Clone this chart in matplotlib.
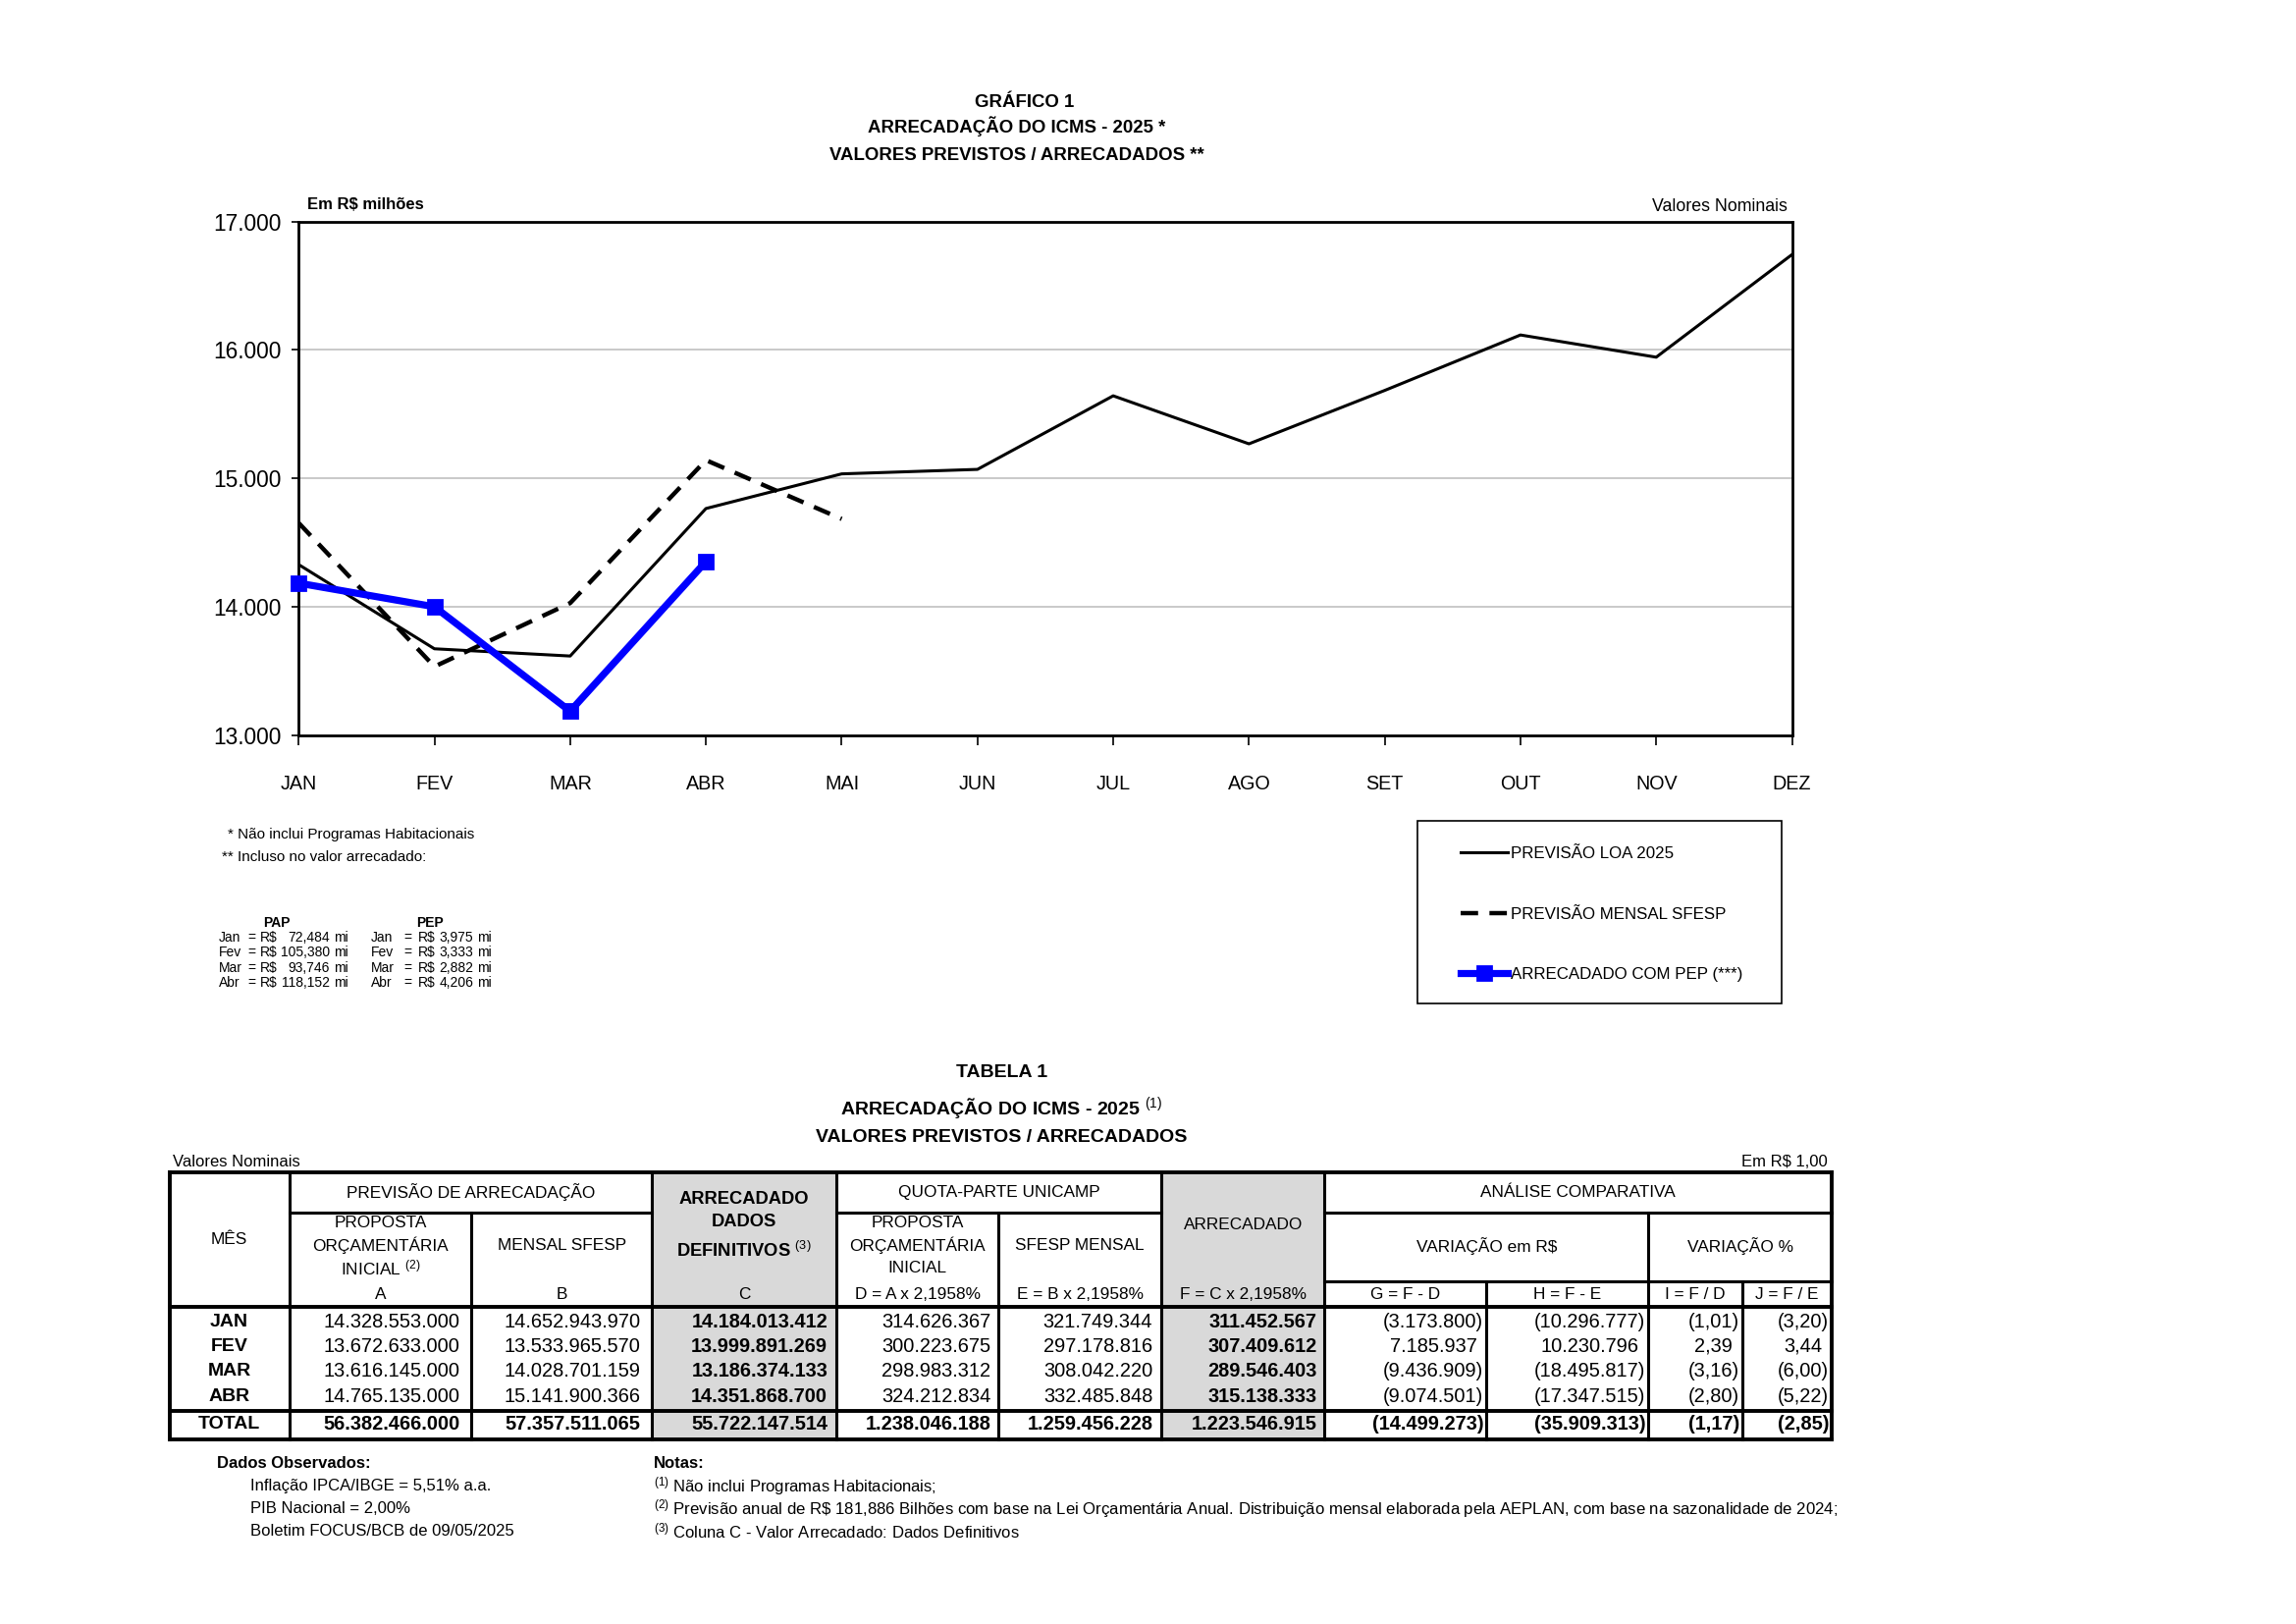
import matplotlib
matplotlib.use("Agg")
import matplotlib.pyplot as plt
from matplotlib.patches import Rectangle
from matplotlib.ticker import FuncFormatter

W, H = 2339, 1654
DPI = 200
S = 0.9943  # ajuste de escala das coordenadas medidas

plt.rcParams['font.family'] = ['Liberation Sans', 'DejaVu Sans']
plt.rcParams['mathtext.fontset'] = 'custom'
plt.rcParams['mathtext.rm'] = 'Liberation Sans'
plt.rcParams['mathtext.it'] = 'Liberation Sans:italic'
plt.rcParams['mathtext.bf'] = 'Liberation Sans:bold'

# ---- dados do gráfico (R$ milhões) ----
meses = ['JAN', 'FEV', 'MAR', 'ABR', 'MAI', 'JUN', 'JUL', 'AGO', 'SET', 'OUT', 'NOV', 'DEZ']
previsao_loa = [14328.553, 13672.633, 13616.145, 14765.135, 15035, 15070,
                15643, 15269, 15685, 16117, 15944, 16743]
previsao_sfesp = [14652.944, 13533.966, 14028.701, 15141.900, 14684]
arrecadado_pep = [14184.013, 13999.891, 13186.374, 14351.869]

# PAP / PEP
pap_meses = ['Jan', 'Fev', 'Mar', 'Abr']
pap_valores = ['72,484', '105,380', '93,746', '118,152']
pep_valores = ['3,975', '3,333', '2,882', '4,206']

# ---- tabela 1 (R$ 1,00) ----
tab_meses = ['JAN', 'FEV', 'MAR', 'ABR']
col_a = [14328553000, 13672633000, 13616145000, 14765135000]
col_b = [14652943970, 13533965570, 14028701159, 15141900366]
col_c = [14184013412, 13999891269, 13186374133, 14351868700]
col_d = [314626367, 300223675, 298983312, 324212834]
col_e = [321749344, 297178816, 308042220, 332485848]
col_f = [311452567, 307409612, 289546403, 315138333]
col_g = [-3173800, 7185937, -9436909, -9074501]
col_h = [-10296777, 10230796, -18495817, -17347515]
col_i = [-1.01, 2.39, -3.16, -2.80]
col_j = [-3.20, 3.44, -6.00, -5.22]
totais = [56382466000, 57357511065, 55722147514, 1238046188, 1259456228,
          1223546915, -14499273, -35909313, -1.17, -2.85]


def fmt_int(v):
    s = f"{abs(v):,}".replace(',', '.')
    return f"({s})" if v < 0 else s


def fmt_pct(v):
    s = f"{abs(v):.2f}".replace('.', ',')
    return f"({s})" if v < 0 else s


fig = plt.figure(figsize=(W / DPI, H / DPI), dpi=DPI)
fig.patch.set_facecolor('white')

# camada de fundo em pixels (textos e tabela)
ov = fig.add_axes([0, 0, 1, 1])
ov.set_xlim(0, W / S)
ov.set_ylim(H / S, 0)
ov.axis('off')


def txt(x, y, s, size, bold=False, ha='center', va='center'):
    ov.text(x, y, s, fontsize=size, fontweight='bold' if bold else 'normal',
            ha=ha, va=va)


# títulos do gráfico
txt(1050, 105, 'GRÁFICO 1', 6.7, True)
txt(1042, 129, 'ARRECADAÇÃO DO ICMS - 2025 *', 6.7, True)
txt(1042, 159, 'VALORES PREVISTOS / ARRECADADOS **', 6.7, True)
txt(315, 210, 'Em R$ milhões', 6.0, True, ha='left')
txt(1831, 212, 'Valores Nominais', 6.4, ha='right')

# ---- gráfico ----
ax = fig.add_axes([306 * S / W, 1 - 753 * S / H, 1530 * S / W, 526 * S / H])
l1, = ax.plot(range(12), previsao_loa, color='black', lw=1.1)
l2, = ax.plot(range(len(previsao_sfesp)), previsao_sfesp, color='black', lw=1.6,
              ls=(0, (4, 2.6)))
l3, = ax.plot(range(len(arrecadado_pep)), arrecadado_pep, color='#0000ff', lw=2.6,
              marker='s', ms=5, clip_on=False, zorder=5)
ax.set_xlim(0, 11)
ax.set_ylim(13000, 17000)
ax.set_xticks(range(12))
ax.set_xticklabels(meses, fontsize=7.1)
ax.set_yticks(range(13000, 17001, 1000))
ax.yaxis.set_major_formatter(FuncFormatter(lambda v, p: f"{int(v):,}".replace(',', '.')))
ax.tick_params(axis='x', direction='out', length=3.6, width=0.6, pad=11)
ax.tick_params(axis='y', direction='out', length=2.5, width=0.6, pad=4, labelsize=8.2)
for sp in ax.spines.values():
    sp.set_linewidth(1.0)
ax.yaxis.grid(True, color='#c0c0c0', lw=0.6)
ax.set_axisbelow(True)

# legenda
fig.legend([l1, l2, l3], ['PREVISÃO LOA 2025', 'PREVISÃO MENSAL SFESP', 'ARRECADADO COM PEP (***)'],
           loc='upper left', bbox_to_anchor=(1497 * S / W, 1 - 867 * S / H), frameon=False,
           fontsize=6.1, handlelength=2.8, handletextpad=0.2, labelspacing=2.75,
           borderpad=0, borderaxespad=0)
ov.add_patch(Rectangle((1452, 841), 373, 187, fill=False, edgecolor='black', lw=0.6))

# notas do gráfico
txt(233, 855, '* Não inclui Programas Habitacionais', 5.5, ha='left')
txt(227, 878, '** Incluso no valor arrecadado:', 5.5, ha='left')
txt(283, 945, 'PAP', 5.0, True)
txt(441, 945, 'PEP', 5.0, True)
for k, m in enumerate(pap_meses):
    y = 960 + k * 15.6
    txt(224, y, m, 5.0, ha='left')
    txt(258, y, '=', 5.0)
    txt(266, y, 'R$', 5.0, ha='left')
    txt(338, y, pap_valores[k], 5.0, ha='right')
    txt(342, y, 'mi', 5.0, ha='left')
    txt(380, y, m, 5.0, ha='left')
    txt(418, y, '=', 5.0)
    txt(428, y, 'R$', 5.0, ha='left')
    txt(485, y, pep_valores[k], 5.0, ha='right')
    txt(489, y, 'mi', 5.0, ha='left')

# ---- tabela ----
txt(1026, 1099, 'TABELA 1', 7.0, True)
txt(1026, 1135, 'ARRECADAÇÃO DO ICMS - 2025 $^{(1)}$', 7.0, True)
txt(1026, 1165, 'VALORES PREVISTOS / ARRECADADOS', 7.0, True)
txt(177, 1190, 'Valores Nominais', 6.0, ha='left')
txt(1872, 1190, 'Em R$ 1,00', 6.0, ha='right')

cx = [174, 297, 483, 668, 857, 1023, 1190, 1357, 1523, 1689, 1785, 1877]
y_top, y_r1, y_r2, y_r3, y_sep, y_bot = 1201, 1242, 1312, 1339, 1445, 1474
linhas = [1354, 1379, 1405, 1431]
y_tot = 1459

for c in (3, 6):
    ov.add_patch(Rectangle((cx[c], y_top), cx[c + 1] - cx[c], y_bot - y_top,
                           facecolor='#d9d9d9', edgecolor='none'))


def hl(x0, x1, y, lw=1.1):
    ov.plot([x0, x1], [y, y], color='black', lw=lw, solid_capstyle='projecting')


def vl(x, y0, y1, lw=1.1):
    ov.plot([x, x], [y0, y1], color='black', lw=lw, solid_capstyle='projecting')


hl(cx[0], cx[11], y_top, 1.4)
hl(cx[1], cx[3], y_r1)
hl(cx[4], cx[6], y_r1)
hl(cx[7], cx[11], y_r1)
hl(cx[7], cx[11], y_r2)
hl(cx[0], cx[11], y_r3, 1.4)
hl(cx[0], cx[11], y_sep, 1.4)
hl(cx[0], cx[11], y_bot, 1.4)
for c in (0, 11):
    vl(cx[c], y_top, y_bot, 1.4)
for c in (1, 3, 4, 6, 7):
    vl(cx[c], y_top, y_bot)
for c in (2, 5, 9):
    vl(cx[c], y_r1, y_bot)
for c in (8, 10):
    vl(cx[c], y_r2, y_bot)

hs = 6.2
txt(235, 1270, 'MÊS', hs)
txt((cx[1] + cx[3]) / 2, 1221, 'PREVISÃO DE ARRECADAÇÃO', hs)
txt((cx[4] + cx[6]) / 2, 1221, 'QUOTA-PARTE UNICAMP', hs)
txt((cx[7] + cx[11]) / 2, 1221, 'ANÁLISE COMPARATIVA', hs)
cc = (cx[3] + cx[4]) / 2
txt(cc, 1228, 'ARRECADADO', 6.6, True)
txt(cc, 1252, 'DADOS', 6.6, True)
txt(cc, 1281, 'DEFINITIVOS $^{(3)}$', 6.6, True)
txt((cx[6] + cx[7]) / 2, 1255, 'ARRECADADO', hs)
for c, ult in ((1, 'INICIAL $^{(2)}$'), (4, 'INICIAL')):
    xm = (cx[c] + cx[c + 1]) / 2
    txt(xm, 1253, 'PROPOSTA', hs)
    txt(xm, 1276, 'ORÇAMENTÁRIA', hs)
    txt(xm, 1299, ult, hs)
txt((cx[2] + cx[3]) / 2, 1276, 'MENSAL SFESP', hs)
txt((cx[5] + cx[6]) / 2, 1276, 'SFESP MENSAL', hs)
txt((cx[7] + cx[9]) / 2, 1276, 'VARIAÇÃO em R$', hs)
txt((cx[9] + cx[11]) / 2, 1276, 'VARIAÇÃO %', hs)
letras = ['A', 'B', 'C', 'D = A x 2,1958%', 'E = B x 2,1958%', 'F = C x 2,1958%',
          'G = F - D', 'H = F - E', 'I = F / D', 'J = F / E']
for k, s in enumerate(letras):
    txt((cx[k + 1] + cx[k + 2]) / 2, 1326, s, hs)

ns = 7.2
pads = [12, 12, 9, 8, 9, 8, 3, 3, 3, 3]
negrito = [False, False, True, False, False, True, False, False, False, False]
colunas = [col_a, col_b, col_c, col_d, col_e, col_f, col_g, col_h, col_i, col_j]


def cell(k, v, y, bold):
    s = fmt_pct(v) if k >= 8 else fmt_int(v)
    xr = cx[k + 2] - pads[k]
    if k >= 6 and v >= 0:
        xr -= 7
    txt(xr, y, s, ns, bold, ha='right')


for r, m in enumerate(tab_meses):
    txt(235, linhas[r], m, 7.0, True)
    for k, col in enumerate(colunas):
        cell(k, col[r], linhas[r], negrito[k])
txt(235, y_tot, 'TOTAL', 7.0, True)
for k, v in enumerate(totais):
    cell(k, v, y_tot, True)

# notas da tabela
txt(222, 1499, 'Dados Observados:', 6.0, True, ha='left')
txt(256, 1522, 'Inflação IPCA/IBGE = 5,51% a.a.', 6.0, ha='left')
txt(256, 1545, 'PIB Nacional = 2,00%', 6.0, ha='left')
txt(256, 1568, 'Boletim FOCUS/BCB de 09/05/2025', 6.0, ha='left')
txt(670, 1499, 'Notas:', 6.0, True, ha='left')
txt(670, 1522, '$^{(1)}$ Não inclui Programas Habitacionais;', 6.0, ha='left')
txt(670, 1545, '$^{(2)}$ Previsão anual de R\\$ 181,886 Bilhões com base na Lei Orçamentária Anual. '
    'Distribuição mensal elaborada pela AEPLAN, com base na sazonalidade de 2024;', 6.05, ha='left')
txt(670, 1568, '$^{(3)}$ Coluna C - Valor Arrecadado: Dados Definitivos', 6.0, ha='left')

fig.savefig('out.png', dpi=DPI, facecolor='white')
